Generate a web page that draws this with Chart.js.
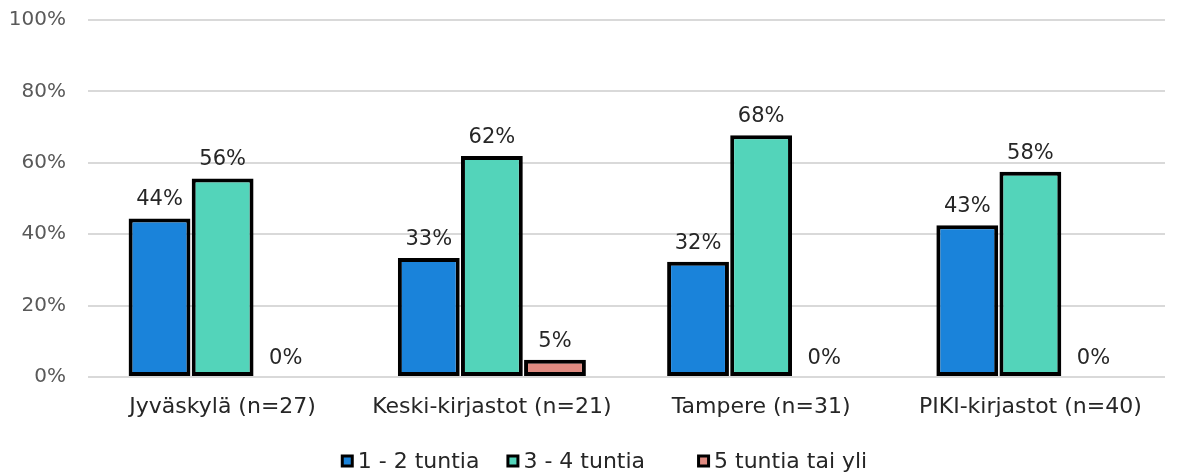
<!DOCTYPE html>
<html><head><meta charset="utf-8">
<script src="https://cdn.jsdelivr.net/npm/chart.js@4/dist/chart.umd.min.js"></script>
<style>html,body{margin:0;padding:0;background:#fff}#wrap{width:1178px;height:473px}</style>
</head><body><div id="wrap"><canvas id="c" width="1178" height="473"></canvas></div>
<script>
const categories = ["Jyväskylä (n=27)", "Keski-kirjastot (n=21)", "Tampere (n=31)", "PIKI-kirjastot (n=40)"];
const seriesNames = ["1 - 2 tuntia", "3 - 4 tuntia", "5 tuntia tai yli"];
const s1 = [44.4, 33.3, 32.3, 42.5];
const s2 = [55.6, 61.9, 67.7, 57.5];
const s3 = [0, 4.8, 0, 0];
const yTicks = [0, 20, 40, 60, 80, 100];
const colors = ["#1A83DA", "#53D4BA", "#DF8A80"];
const FONT = "'DejaVu Sans', sans-serif";

const labelPlugin = {
  id: 'barLabels',
  afterDatasetsDraw(chart) {
    const ctx = chart.ctx;
    ctx.save();
    ctx.font = "21px " + FONT;
    ctx.fillStyle = "#262626";
    ctx.textAlign = "center";
    ctx.textBaseline = "bottom";
    chart.data.datasets.forEach((ds, i) => {
      const meta = chart.getDatasetMeta(i);
      meta.data.forEach((el, j) => {
        ctx.fillText(Math.round(ds.data[j]) + "%", el.x, el.y - 8);
      });
    });
    ctx.restore();
  }
};

const legendPlugin = {
  id: 'customLegend',
  afterDraw(chart) {
    const ctx = chart.ctx;
    ctx.save();
    ctx.font = "22px " + FONT;
    ctx.textBaseline = "middle";
    const box = 13, gapText = 4, gaps = [27, 52];
    const dss = chart.data.datasets;
    const widths = dss.map(ds => box + gapText + ctx.measureText(ds.label).width);
    const total = widths.reduce((a, b) => a + b, 0) + gaps.reduce((a, b) => a + b, 0);
    let x = 604 - total / 2;
    const y = 461;
    dss.forEach((ds, i) => {
      ctx.fillStyle = "#000";
      ctx.fillRect(x, y - box / 2, box, box);
      ctx.fillStyle = ds.backgroundColor;
      ctx.fillRect(x + 3, y - box / 2 + 3, box - 6, box - 6);
      ctx.fillStyle = "#262626";
      ctx.textAlign = "left";
      ctx.fillText(ds.label, x + box + gapText, y + 1);
      x += widths[i] + (gaps[i] || 0);
    });
    ctx.restore();
  }
};

const data = {
  labels: categories,
  datasets: [s1, s2, s3].map((d, i) => ({
    label: seriesNames[i],
    data: d,
    backgroundColor: colors[i],
    borderColor: "#000",
    borderWidth: 4,
    borderSkipped: false,
    categoryPercentage: 0.703,
    barPercentage: 0.98
  }))
};

new Chart(document.getElementById('c'), {
  type: 'bar',
  data,
  plugins: [labelPlugin, legendPlugin],
  options: {
    responsive: false,
    animation: false,
    layout: { padding: { top: 20, right: 13, left: 0, bottom: 53 } },
    plugins: {
      tooltip: { enabled: false },
      legend: { display: false }
    },
    scales: {
      x: {
        afterFit(scale) { scale.height = 43; scale.paddingLeft = 0; scale.paddingRight = 0; },
        grid: { display: false, drawTicks: false },
        border: { display: false },
        ticks: { font: { size: 22, family: FONT }, color: "#262626", padding: 17, maxRotation: 0 }
      },
      y: {
        min: 0, max: 100,
        afterFit(scale) { scale.width = 88; scale.paddingTop = 0; scale.paddingBottom = 0; },
        afterBuildTicks(scale) { scale.ticks = yTicks.map(v => ({ value: v })); },
        grid: { color: "#d9d9d9", lineWidth: 2, drawTicks: false },
        border: { display: false },
        ticks: { font: { size: 20, family: FONT }, color: "#595959", padding: 22,
          callback: v => v + "%" }
      }
    }
  }
});
</script></body></html>
